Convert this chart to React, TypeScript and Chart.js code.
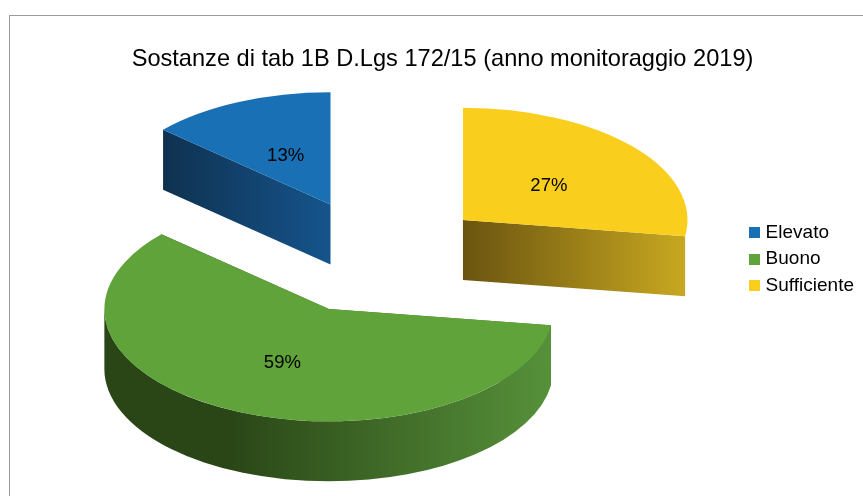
import React, { useEffect, useRef } from "react";
import { Chart, registerables } from "chart.js";

Chart.register(...registerables);

const FONT = "'Liberation Sans', Arial, sans-serif";
const titleText = "Sostanze di tab 1B D.Lgs 172/15 (anno monitoraggio 2019)";

// Drawn clockwise from 12 o'clock; the legend lists them in reverse.
const categories = ["Sufficiente", "Buono", "Elevato"];
const values = [27.3, 59.3, 13.4];
const topColors = ["#f9ce1d", "#5fa33a", "#1a70b5"];
const explode = [113, 115, 115];
const wallStops: [number, string][][] = [
  [[0, "#6a5410"], [1, "#c8a820"]],
  [[0, "#2a4617"], [0.28, "#2a4617"], [1, "#56913a"]],
  [[0, "#0f3150"], [1, "#15548c"]],
];

const RADIUS = 224.5;
const FLATTEN = 0.5;
const WALL = 60;
const CENTER_X = 377.5;
const CENTER_Y = 257;
const SWATCH = 11;
const MIN_CURVED_WALL = Math.PI / 6;

const pie3d = {
  id: "pie3d",
  beforeDatasetDraw(chart: any) {
    const { ctx, chartArea } = chart;
    const cx = (chartArea.left + chartArea.right) / 2;
    const cy = (chartArea.top + chartArea.bottom) / 2;
    const arcs = chart.getDatasetMeta(0).data;
    const depth = WALL / FLATTEN;
    ctx.save();
    ctx.translate(CENTER_X, CENTER_Y);
    ctx.scale(1, FLATTEN);
    ctx.translate(-cx, -cy);
    arcs.forEach((arc: any, i: number) => {
      const { x, y, startAngle, endAngle, outerRadius } = arc;
      const mid = (startAngle + endAngle) / 2;
      const ox = x + Math.cos(mid) * explode[i];
      const oy = y + Math.sin(mid) * explode[i];
      const xs = [ox, ox + Math.cos(startAngle) * outerRadius, ox + Math.cos(endAngle) * outerRadius];
      [Math.PI, 2 * Math.PI, 3 * Math.PI].forEach((a) => {
        if (a > startAngle && a < endAngle) xs.push(ox + Math.cos(a) * outerRadius);
      });
      const grad = ctx.createLinearGradient(Math.min(...xs), 0, Math.max(...xs), 0);
      wallStops[i].forEach(([t, c]) => grad.addColorStop(t, c));
      ctx.fillStyle = grad;
      [startAngle, endAngle].forEach((a) => {
        const ex = ox + Math.cos(a) * outerRadius;
        const ey = oy + Math.sin(a) * outerRadius;
        ctx.beginPath();
        ctx.moveTo(ox, oy);
        ctx.lineTo(ex, ey);
        ctx.lineTo(ex, ey + depth);
        ctx.lineTo(ox, oy + depth);
        ctx.closePath();
        ctx.fill();
      });
      // Only the part of the rim that faces the viewer gets a curved wall.
      const front0 = Math.max(startAngle, 0);
      const front1 = Math.min(endAngle, Math.PI);
      if (front1 - front0 > MIN_CURVED_WALL) {
        ctx.beginPath();
        ctx.arc(ox, oy, outerRadius, front0, front1);
        ctx.arc(ox, oy + depth, outerRadius, front1, front0, true);
        ctx.closePath();
        ctx.fill();
      }
    });
    arcs.forEach((arc: any, i: number) => {
      const mid = (arc.startAngle + arc.endAngle) / 2;
      ctx.save();
      ctx.translate(Math.cos(mid) * explode[i], Math.sin(mid) * explode[i]);
      arc.draw(ctx);
      ctx.restore();
    });
    ctx.restore();

    ctx.save();
    ctx.fillStyle = "#000";
    ctx.font = `18.5px ${FONT}`;
    ctx.textAlign = "center";
    ctx.textBaseline = "middle";
    arcs.forEach((arc: any, i: number) => {
      const mid = (arc.startAngle + arc.endAngle) / 2;
      const r = explode[i] + arc.outerRadius / 2;
      const px = arc.x + Math.cos(mid) * r - cx + CENTER_X;
      const py = (arc.y + Math.sin(mid) * r - cy) * FLATTEN + CENTER_Y;
      ctx.fillText(`${Math.round(values[i])}%`, px + 1, py + 3);
    });
    ctx.restore();
    return false;
  },
};

function swatch(color: string) {
  const c = document.createElement("canvas");
  c.width = SWATCH;
  c.height = SWATCH;
  const g = c.getContext("2d")!;
  g.fillStyle = color;
  g.fillRect(0, 0, SWATCH, SWATCH);
  return c;
}

export default function App() {
  const ref = useRef<HTMLCanvasElement>(null);
  useEffect(() => {
    const chart = new Chart(ref.current!, {
      type: "pie",
      data: {
        labels: categories,
        datasets: [
          {
            data: values,
            backgroundColor: topColors,
            borderWidth: 0,
            clip: false,
          } as any,
        ],
      },
      options: {
        responsive: false,
        animation: false,
        events: [],
        radius: RADIUS,
        layout: { padding: { left: 21, right: -1, top: 15, bottom: 57 } },
        plugins: {
          tooltip: { enabled: false },
          title: {
            display: true,
            text: titleText,
            color: "#000",
            font: { family: FONT, size: 23.6, weight: "normal" },
            padding: { top: 30, bottom: 6 },
          },
          legend: {
            position: "right",
            fullSize: false,
            reverse: true,
            labels: {
              usePointStyle: true,
              pointStyleWidth: 4,
              boxHeight: SWATCH,
              padding: 7.5,
              color: "#000",
              font: { family: FONT, size: 19 },
              generateLabels: (c: any) =>
                (Chart as any).overrides.doughnut.plugins.legend.labels
                  .generateLabels(c)
                  .map((item: any, i: number) => ({ ...item, pointStyle: swatch(topColors[i]) })),
            },
          },
        },
      } as any,
      plugins: [pie3d],
    });
    return () => chart.destroy();
  }, []);
  return (
    <div style={{ position: "absolute", left: 0, top: 0, width: 863, height: 496, overflow: "hidden", background: "#fff" }}>
      <div
        style={{
          position: "absolute",
          left: 9,
          top: 15,
          width: 860,
          height: 490,
          borderLeft: "1px solid #9a9a9a",
          borderTop: "1px solid #9a9a9a",
        }}
      />
      <canvas ref={ref} width={863} height={496} style={{ position: "absolute", left: 0, top: 0, display: "block" }} />
    </div>
  );
}
